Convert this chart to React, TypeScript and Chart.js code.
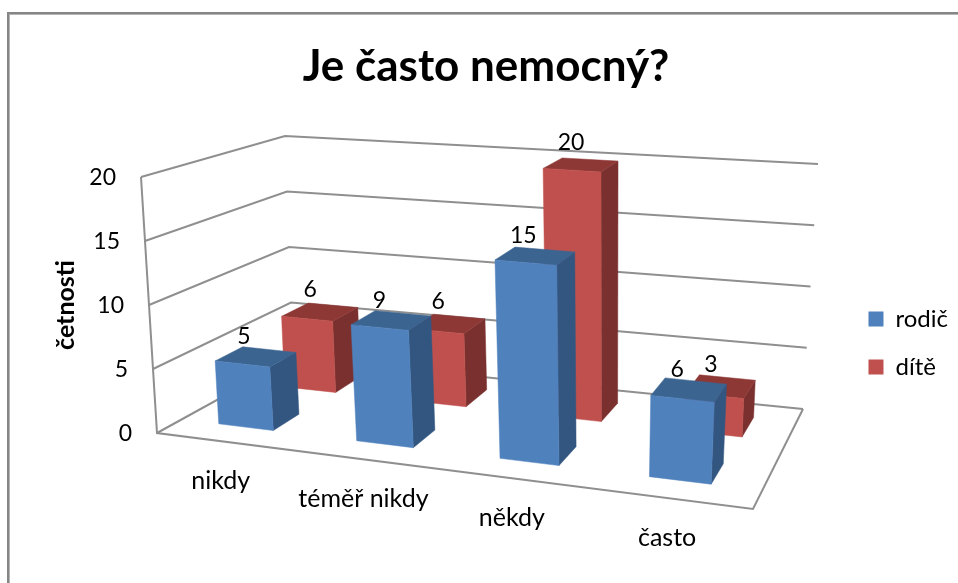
import React, { useEffect, useRef } from "react";
import { Chart, registerables } from "chart.js";

Chart.register(...registerables);

const categories = ["nikdy", "téměř nikdy", "někdy", "často"];
const rodic = [5, 9, 15, 6];
const dite = [6, 6, 20, 3];
const seriesNames = ["rodič", "dítě"];
const chartTitle = "Je často nemocný?";
const axisTitle = "četnosti";

const FONT = "Lato, Carlito, sans-serif";
const LINE = "#8f8f8f";
const FACES = [
  { front: "#4F81BD", side: "#335680", top: "#3C6491" },
  { front: "#C0504D", side: "#7A302E", top: "#8E3836" },
];
// placement of each series inside the box: depth range, sideways nudge, label offset
const DEPTH = [
  [0.17, 0.37],
  [0.65, 0.86],
];
const NUDGE = [-0.0065, -0.002];
const LABEL_OFFSET = [
  [-12, -20],
  [-10, -22],
];

type P = [number, number];
// box corners as seen on the page: front-left, front-right, back-right, back-left
const FLOOR: P[] = [[157, 433], [753, 509], [803, 409], [293, 358]];
const CEIL: P[] = [[141, 177], [770, 227], [818, 164], [285, 136]];

function makeHomography(q: P[]) {
  const [[x0, y0], [x1, y1], [x2, y2], [x3, y3]] = q;
  const dx1 = x1 - x2, dx2 = x3 - x2, sx = x0 - x1 + x2 - x3;
  const dy1 = y1 - y2, dy2 = y3 - y2, sy = y0 - y1 + y2 - y3;
  const det = dx1 * dy2 - dx2 * dy1;
  const g = (sx * dy2 - dx2 * sy) / det;
  const h = (dx1 * sy - sx * dy1) / det;
  const a = x1 - x0 + g * x1, b = x3 - x0 + h * x3;
  const d = y1 - y0 + g * y1, e = y3 - y0 + h * y3;
  return (u: number, v: number): P => {
    const w = g * u + h * v + 1;
    const hx = (a * u + b * v + x0) / w, hy = (d * u + e * v + y0) / w;
    // softened perspective: halfway between the homography and a bilinear patch
    const lx = (x0 * (1 - u) + x1 * u) * (1 - v) + (x3 * (1 - u) + x2 * u) * v;
    const ly = (y0 * (1 - u) + y1 * u) * (1 - v) + (y3 * (1 - u) + y2 * u) * v;
    return [(hx + lx) / 2, (hy + ly) / 2];
  };
}
const floorH = makeHomography(FLOOR);
const ceilH = makeHomography(CEIL);
// u: 0..1 along categories, d: 0..1 into depth, v: 0..1 up the value axis
function project(u: number, d: number, v: number): P {
  const a = floorH(u, d), b = ceilH(u, d);
  return [a[0] + (b[0] - a[0]) * v, a[1] + (b[1] - a[1]) * v];
}

function poly(ctx: CanvasRenderingContext2D, pts: P[], fill: string) {
  ctx.beginPath();
  pts.forEach((p, i) => (i ? ctx.lineTo(p[0], p[1]) : ctx.moveTo(p[0], p[1])));
  ctx.closePath();
  ctx.fillStyle = fill;
  ctx.fill();
  ctx.strokeStyle = fill;
  ctx.lineWidth = 0.5;
  ctx.stroke();
}
function path(ctx: CanvasRenderingContext2D, pts: P[]) {
  ctx.beginPath();
  pts.forEach((p, i) => (i ? ctx.lineTo(p[0], p[1]) : ctx.moveTo(p[0], p[1])));
  ctx.stroke();
}

const box3d = {
  id: "box3d",
  beforeDatasetsDraw(chart: any) {
    const ctx: CanvasRenderingContext2D = chart.ctx;
    const xs = chart.scales.x, ys = chart.scales.y;
    const nu = (px: number) => (px - xs.left) / xs.width;
    const nv = (py: number) => (ys.bottom - py) / ys.height;
    ctx.save();

    // frame of the chart object
    ctx.fillStyle = "#868686";
    ctx.fillRect(7, 12, 951, 2);
    ctx.fillRect(7, 12, 2, 571);
    ctx.fillStyle = "#b4b4b4";
    ctx.fillRect(9, 14, 949, 1);
    ctx.fillRect(9, 14, 1, 569);

    // walls and floor
    ctx.strokeStyle = LINE;
    ctx.lineWidth = 2;
    const ticks: any[] = ys.ticks;
    ticks.forEach((t) => {
      const v = nv(ys.getPixelForValue(t.value));
      path(ctx, [project(0, 0, v), project(0, 1, v), project(1, 1, v)]);
    });
    path(ctx, [project(0, 0, 1), project(0, 0, 0), project(1, 0, 0), project(1, 1, 0)]);

    // value axis labels
    ctx.fillStyle = "#000";
    ctx.font = `23px ${FONT}`;
    ctx.textAlign = "right";
    ctx.textBaseline = "middle";
    ticks.forEach((t) => {
      const p = project(0, 0, nv(ys.getPixelForValue(t.value)));
      ctx.fillText(String(t.value), p[0] - 25, p[1] + 1);
    });

    // category labels
    ctx.font = `25px ${FONT}`;
    ctx.textAlign = "center";
    categories.forEach((c, i) => {
      const p = project(nu(xs.getPixelForValue(i)), 0, 0);
      ctx.fillText(c, p[0] - 5.5, p[1] + 39);
    });

    // axis title
    ctx.save();
    ctx.translate(66, 305);
    ctx.rotate(-Math.PI / 2);
    ctx.font = `bold 25px ${FONT}`;
    ctx.fillText(axisTitle, 0, 0);
    ctx.restore();

    // bars, back series first
    const labels: { p: P; t: string }[] = [];
    for (let di = chart.data.datasets.length - 1; di >= 0; di--) {
      const meta = chart.getDatasetMeta(di);
      const [d0, d1] = DEPTH[di];
      const f = FACES[di];
      meta.data.forEach((el: any, i: number) => {
        const u0 = nu(el.x - el.width / 2) + NUDGE[di], u1 = nu(el.x + el.width / 2) + NUDGE[di];
        const v = nv(el.y), v0 = nv(el.base);
        poly(ctx, [project(u1, d0, v0), project(u1, d1, v0), project(u1, d1, v), project(u1, d0, v)], f.side);
        poly(ctx, [project(u0, d0, v), project(u1, d0, v), project(u1, d1, v), project(u0, d1, v)], f.top);
        poly(ctx, [project(u0, d0, v0), project(u1, d0, v0), project(u1, d0, v), project(u0, d0, v)], f.front);
        const c = project((u0 + u1) / 2, (d0 + d1) / 2, v);
        labels.push({
          p: [c[0] + LABEL_OFFSET[di][0], c[1] + LABEL_OFFSET[di][1]],
          t: String(chart.data.datasets[di].data[i]),
        });
      });
    }

    // value labels
    ctx.fillStyle = "#000";
    ctx.font = `23px ${FONT}`;
    ctx.textAlign = "center";
    ctx.textBaseline = "middle";
    labels.forEach((l) => ctx.fillText(l.t, l.p[0], l.p[1]));
    ctx.restore();
    return false;
  },
};

export default function App() {
  const ref = useRef<HTMLCanvasElement>(null);
  useEffect(() => {
    const chart = new Chart(ref.current!, {
      type: "bar",
      data: {
        labels: categories,
        datasets: [
          { label: seriesNames[0], data: rodic, backgroundColor: FACES[0].front, borderWidth: 0 },
          { label: seriesNames[1], data: dite, backgroundColor: FACES[1].front, borderWidth: 0 },
        ],
      },
      options: {
        responsive: false,
        animation: false,
        layout: { padding: { left: 14, top: 0, right: 0, bottom: 0 } },
        datasets: { bar: { grouped: false, categoryPercentage: 1, barPercentage: 0.4 } },
        scales: {
          x: { display: false },
          y: { display: false, min: 0, max: 20, ticks: { stepSize: 5 } },
        },
        plugins: {
          title: {
            display: true,
            text: chartTitle,
            color: "#000",
            font: { family: FONT, size: 44, weight: "bold" },
            padding: { top: 40, bottom: 10 },
          },
          legend: {
            position: "right",
            fullSize: false,
            labels: {
              boxWidth: 15,
              boxHeight: 15,
              color: "#000",
              font: { family: FONT, size: 24 },
              padding: 24,
            },
          },
          tooltip: { enabled: false },
        },
      } as any,
      plugins: [box3d],
    });
    return () => chart.destroy();
  }, []);
  return (
    <div style={{ position: "absolute", left: 0, top: 0, width: 958, height: 583, background: "#fff" }}>
      <canvas ref={ref} width={958} height={583} style={{ display: "block" }} />
    </div>
  );
}
